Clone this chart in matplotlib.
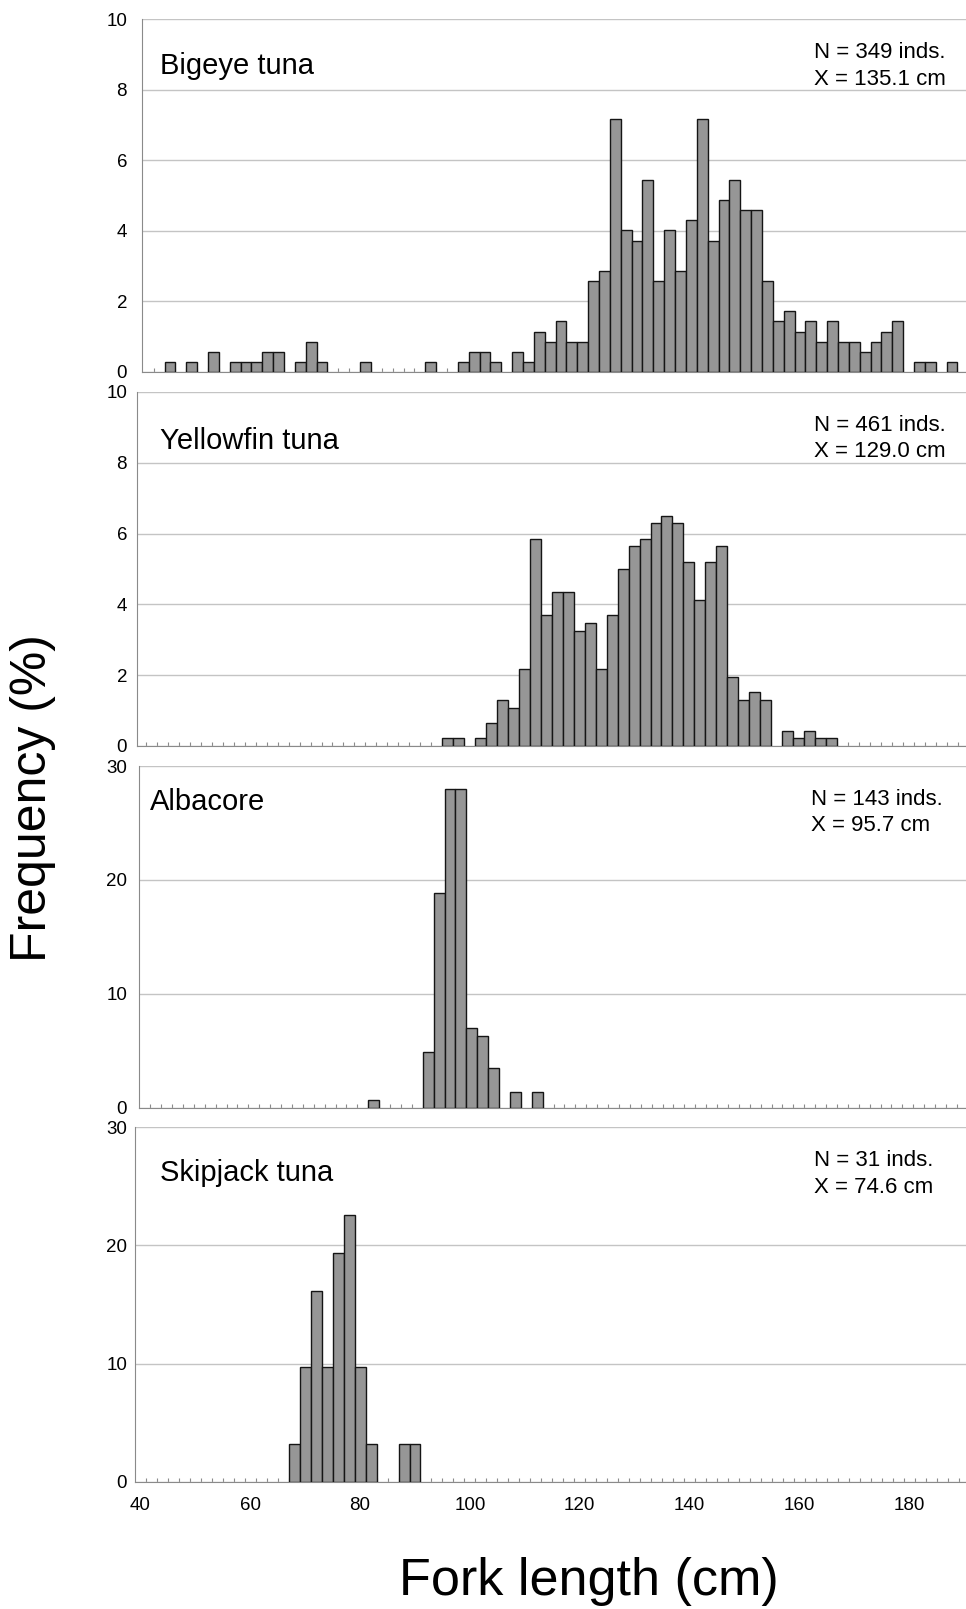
import numpy as np
import matplotlib
matplotlib.use("Agg")
import matplotlib.pyplot as plt

plt.rcParams['font.family'] = ['Liberation Sans', 'DejaVu Sans']

# fork length bins (cm, class centres) and fish counts per bin
bigeye_bins = [44, 48, 52, 56, 58, 60, 62, 64, 68, 70, 72, 80, 92, 98, 100, 102, 104,
               108, 110, 112, 114, 116, 118, 120, 122, 124, 126, 128, 130, 132, 134,
               136, 138, 140, 142, 144, 146, 148, 150, 152, 154, 156, 158, 160, 162,
               164, 166, 168, 170, 172, 174, 176, 178, 182, 184, 188]
bigeye_counts = [1, 1, 2, 1, 1, 1, 2, 2, 1, 3, 1, 1, 1, 1, 2, 2, 1,
                 2, 1, 4, 3, 5, 3, 3, 9, 10, 25, 14, 13, 19, 9,
                 14, 10, 15, 25, 13, 17, 19, 16, 16, 9, 5, 6, 4, 5,
                 3, 5, 3, 3, 2, 3, 4, 5, 1, 1, 1]

yellowfin_bins = [96, 98, 102, 104, 106, 108, 110, 112, 114, 116, 118, 120, 122, 124,
                  126, 128, 130, 132, 134, 136, 138, 140, 142, 144, 146, 148, 150, 152,
                  154, 158, 160, 162, 164, 166]
yellowfin_counts = [1, 1, 1, 3, 6, 5, 10, 27, 17, 20, 20, 15, 16, 10,
                    17, 23, 26, 27, 29, 30, 29, 24, 19, 24, 26, 9, 6, 7,
                    6, 2, 1, 2, 1, 1]

albacore_bins = [82, 92, 94, 96, 98, 100, 102, 104, 108, 112]
albacore_counts = [1, 7, 27, 40, 40, 10, 9, 5, 2, 2]

skipjack_bins = [68, 70, 72, 74, 76, 78, 80, 82, 88, 90]
skipjack_counts = [1, 3, 5, 3, 6, 7, 3, 1, 1, 1]

names = ["Bigeye tuna", "Yellowfin tuna", "Albacore", "Skipjack tuna"]
n_fish = [349, 461, 143, 31]
mean_fl = ["135.1", "129.0", "95.7", "74.6"]
y_max = [10, 10, 30, 30]
y_step = [2, 2, 10, 10]
xtick_vals = [40, 60, 80, 100, 120, 140, 160, 180]

W, H = 966, 1609
fig = plt.figure(figsize=(W / 100, H / 100), dpi=100)

# each panel was pasted in separately, so each has its own box and x scale
boxes = [(142.3, 19, 372), (137.3, 392, 746), (139.3, 766, 1108), (135, 1127, 1482)]
x_start = [38.9, 39.4, 39.0, 39.0]          # value at the left spine
px_per_cm = [5.431, 5.483, 5.45, 5.49]
name_pos = [(160, 74), (160, 449), (150, 810), (160, 1181)]
stat_pos = [(814, 58, 85), (814, 431, 457), (811, 805, 831), (814, 1166, 1193)]

all_bins = [bigeye_bins, yellowfin_bins, albacore_bins, skipjack_bins]
all_counts = [bigeye_counts, yellowfin_counts, albacore_counts, skipjack_counts]

for i in range(4):
    left, top, bot = boxes[i]
    ax = fig.add_axes([left / W, 1 - bot / H, (W - left) / W, (bot - top) / H])
    pct = np.array(all_counts[i]) / n_fish[i] * 100
    ax.bar(all_bins[i], pct, width=2, color='#969696', edgecolor='#151515',
           linewidth=1.0, zorder=3)
    ax.set_xlim(x_start[i], x_start[i] + (W - left) / px_per_cm[i])
    ax.set_ylim(0, y_max[i])
    ax.set_yticks(np.arange(0, y_max[i] + 1, y_step[i]))
    ax.yaxis.grid(True, color='#c4c4c4', linewidth=1.0)
    ax.set_axisbelow(True)
    for s in ['top', 'right']:
        ax.spines[s].set_visible(False)
    ax.spines['left'].set_color('#8a8a8a')
    ax.spines['bottom'].set_color('#8a8a8a')
    ax.tick_params(axis='y', length=0, labelsize=13.5, pad=(left - 127) * 0.72)
    ax.set_xticks(xtick_vals)
    ax.set_xticks(np.arange(41, 190, 2), minor=True)
    ax.tick_params(axis='x', which='major', length=0, labelsize=13.5, pad=11)
    ax.tick_params(axis='x', which='minor', direction='in', length=3,
                   color='#8a8a8a', width=0.8)
    if i < 3:
        ax.set_xticklabels([])

    nx, ny = name_pos[i]
    fig.text(nx / W, 1 - ny / H, names[i], fontsize=21, va='baseline', ha='left')
    sx, sy1, sy2 = stat_pos[i]
    fig.text(sx / W, 1 - sy1 / H, f"N = {n_fish[i]} inds.", fontsize=16,
             va='baseline', ha='left')
    fig.text(sx / W, 1 - sy2 / H, f"X = {mean_fl[i]} cm", fontsize=16,
             va='baseline', ha='left')

fig.text(33 / W, 1 - 798 / H, "Frequency (%)", fontsize=36, rotation=90,
         ha='center', va='center')
fig.text(589 / W, 1 - 1595 / H, "Fork length (cm)", fontsize=37.5,
         ha='center', va='baseline')

fig.savefig("out.png", dpi=100)
